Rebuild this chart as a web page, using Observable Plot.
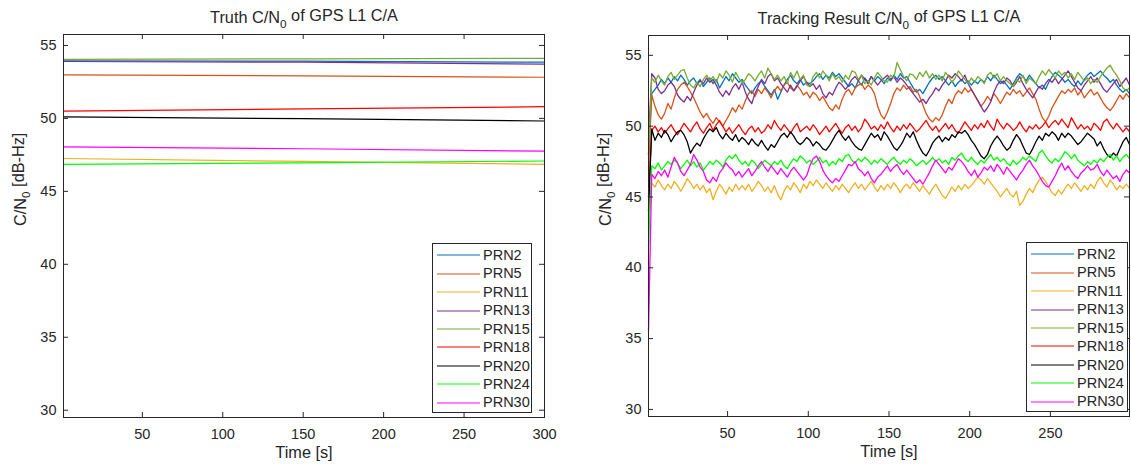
<!DOCTYPE html>
<html>
<head>
<meta charset="utf-8">
<script src="https://cdn.jsdelivr.net/npm/d3@7"></script>
<script src="https://cdn.jsdelivr.net/npm/@observablehq/plot@0.6"></script>
<style>
  body { margin: 0; background: #fff; font-family: "Liberation Sans", Arial, Helvetica, sans-serif; }
  #wrap { position: relative; width: 1131px; height: 468px; display: flex; overflow: hidden; }
  #wrap svg { display: block; }
  .legend { position: absolute; border: 1px solid #262626; background: #fff; box-sizing: border-box;
            font-size: 14.5px; color: #262626; padding-top: 2px; }
  .legend .row { height: 18.45px; display: flex; align-items: center; }
  .legend .row svg { margin-left: 4px; }
  .legend .row span { margin-left: 3px; line-height: 1; }
</style>
</head>
<body>
<div id="wrap"></div>
<script>
// ---------------- data ----------------
const prns = ["PRN2", "PRN5", "PRN11", "PRN13", "PRN15", "PRN18", "PRN20", "PRN24", "PRN30"];
const colors = ["#0072BD", "#D95319", "#EDB120", "#7E2F8E", "#77AC30", "#FF0000", "#000000", "#00FF00", "#FF00FF"];

const yTicks = [30, 35, 40, 45, 50, 55];
const xTicksTruth = [50, 100, 150, 200, 250, 300];
const xTicksTrack = [50, 100, 150, 200, 250];

// Truth C/N0 (samples at t = 1, 150, 300 s)
const truthTime = [1, 150, 300];
const truthPRN2  = [53.95, 53.92, 53.85];
const truthPRN5  = [52.98, 52.92, 52.82];
const truthPRN11 = [47.25, 47.05, 46.85];
const truthPRN13 = [53.90, 53.85, 53.72];
const truthPRN15 = [54.05, 54.08, 54.12];
const truthPRN18 = [50.50, 50.65, 50.80];
const truthPRN20 = [50.10, 49.98, 49.82];
const truthPRN24 = [46.85, 46.95, 47.08];
const truthPRN30 = [48.05, 47.92, 47.75];

// Tracking result C/N0 (one sample every 2 s, t = 1 ... 299 s)
const trackTime = d3.range(1, 300, 2);
const trackPRN2 = [
48.0,52.3,52.6,52.9,53.3,53.0,53.4,53.1,53.5,53.2,
53.6,53.3,52.9,53.2,53.4,53.0,53.3,52.8,53.1,53.4,
53.0,53.3,52.7,53.1,53.5,53.2,53.7,53.4,53.1,53.3,
52.9,52.6,52.3,52.7,53.0,53.2,52.8,52.5,52.2,52.6,
51.9,52.4,52.9,53.3,53.6,53.2,53.0,53.3,52.9,53.1,
53.0,53.2,53.5,53.7,53.3,53.6,53.4,53.8,53.5,53.7,
53.4,53.1,52.8,53.0,52.7,53.2,52.9,53.4,53.1,53.5,
53.2,53.5,53.3,53.0,53.4,53.2,53.6,53.3,53.7,53.4,
53.5,53.1,52.7,52.4,52.6,52.3,52.7,53.1,53.4,53.6,
53.3,53.5,53.2,52.9,53.2,52.8,53.1,53.3,53.0,53.2,
52.9,53.2,53.0,53.3,53.1,53.5,53.2,53.6,53.3,53.0,
53.2,52.9,52.6,53.0,53.4,53.7,53.5,53.2,53.6,53.3,
53.0,52.7,52.9,52.6,53.1,53.5,53.8,53.6,53.4,53.1,
53.3,53.0,52.8,53.2,52.9,53.3,53.6,53.8,53.5,53.7,
53.9,53.6,53.4,53.1,53.3,52.9,52.6,52.4,52.6,52.3];
const trackPRN5 = [
47.0,52.2,51.4,50.8,50.5,50.9,51.6,51.2,52.0,52.6,
52.9,53.1,52.8,52.4,52.0,51.5,51.0,50.6,50.9,50.5,
50.2,50.6,50.3,50.0,50.4,50.8,51.3,51.0,51.5,51.2,
51.8,52.3,52.5,52.1,52.6,52.3,52.7,52.4,52.0,52.5,
52.8,52.5,52.9,53.1,52.7,52.5,52.9,52.6,52.2,52.4,
52.0,52.4,52.2,51.8,52.1,51.7,51.3,51.1,51.5,51.2,
51.9,52.4,52.6,52.2,52.7,52.9,53.0,52.6,52.9,52.7,
52.3,51.4,50.8,50.5,51.0,51.6,52.3,52.7,52.5,52.9,
52.6,52.8,52.4,52.6,52.1,51.5,50.9,50.5,50.3,50.6,
50.4,50.8,51.4,51.9,51.6,52.2,52.5,52.3,52.7,52.4,
52.6,52.2,51.8,51.4,51.7,52.1,51.8,52.3,52.0,51.6,
52.0,52.4,52.2,52.6,52.3,52.5,52.1,52.4,52.7,52.3,
51.9,51.2,50.6,50.3,50.7,51.3,51.7,52.1,52.5,52.3,
52.6,52.4,52.7,52.2,52.5,52.0,52.3,52.6,52.2,52.4,
52.0,51.6,51.3,51.1,51.4,51.8,52.2,51.9,52.3,52.0];
const trackPRN11 = [
43.5,46.0,45.7,46.2,45.8,45.5,45.9,45.6,46.1,45.8,
45.4,45.8,46.3,46.0,45.6,45.9,45.5,45.8,45.3,45.6,
44.8,45.4,45.9,45.6,45.2,45.7,45.4,45.9,45.5,45.8,
45.5,45.9,45.4,45.7,46.1,45.8,45.4,45.7,45.3,45.8,
45.2,44.8,45.4,45.8,45.5,46.0,45.7,45.3,45.9,45.6,
46.1,45.8,46.2,45.9,45.6,46.0,45.7,45.4,45.8,45.5,
45.9,45.6,45.3,45.7,46.0,45.6,45.9,45.5,45.8,46.1,
45.7,45.4,45.8,45.5,45.9,45.6,46.0,45.7,45.3,45.7,
45.9,45.6,46.0,45.7,45.4,45.8,45.5,45.2,45.6,45.9,
45.5,45.1,44.9,45.3,45.7,45.4,45.8,45.5,45.9,45.6,
45.8,46.1,46.4,46.2,45.9,46.3,46.0,45.7,45.4,45.0,
45.3,45.6,45.2,45.0,45.4,44.4,44.7,45.2,45.6,45.3,
45.8,46.2,46.4,46.1,45.7,45.3,45.1,45.5,45.2,45.6,
45.9,45.6,46.0,45.7,45.4,45.8,45.5,45.9,45.6,46.1,
46.4,46.0,45.7,46.2,45.9,45.5,45.8,45.6,45.9,45.6];
const trackPRN13 = [
49.0,53.7,53.4,52.6,52.3,52.5,52.9,53.1,52.8,52.2,
51.9,51.7,52.1,51.8,52.4,52.9,53.2,53.0,53.4,53.1,
53.3,52.9,52.4,52.1,52.5,52.2,52.7,53.0,52.6,53.1,
52.4,51.9,51.6,52.3,52.8,53.3,53.0,53.5,53.7,53.2,
53.4,53.0,52.7,52.4,52.9,52.5,52.8,53.2,53.5,53.1,
52.8,53.0,52.6,52.9,52.3,52.0,52.4,52.2,52.7,53.1,
52.9,52.6,52.9,53.3,53.5,53.2,53.6,53.3,53.0,53.5,
53.2,52.9,53.2,53.4,53.6,53.3,53.5,53.1,53.4,53.2,
52.9,52.6,52.3,52.0,51.7,51.9,51.6,52.0,52.3,52.7,
52.5,52.9,53.2,53.6,53.4,53.7,53.5,53.2,53.6,53.0,
52.6,52.2,51.8,51.4,51.0,51.3,51.7,52.4,52.9,53.2,
53.0,53.4,53.2,52.8,53.1,53.5,53.0,52.6,52.3,52.0,
52.4,52.8,52.6,53.0,53.3,53.1,53.4,53.0,53.3,53.6,
53.9,53.5,53.1,52.7,52.5,52.9,53.2,53.5,53.1,53.4,
53.0,52.6,52.4,52.7,53.0,53.3,52.8,53.1,53.4,52.9];
const trackPRN15 = [
48.0,53.4,53.1,53.6,53.2,52.9,53.5,53.8,53.3,53.6,
53.9,54.0,53.4,52.9,52.7,53.1,52.8,53.3,53.6,53.2,
53.5,53.1,53.7,53.4,53.9,53.6,53.1,53.8,53.4,53.0,
53.3,53.7,53.5,53.2,53.6,53.9,53.4,54.1,53.7,53.3,
53.6,53.2,53.5,53.0,53.8,53.4,53.9,53.3,53.6,52.9,
52.8,53.5,53.8,53.4,53.9,53.6,53.2,53.7,53.3,53.5,
53.1,53.6,53.3,53.9,53.8,53.3,53.6,53.0,53.2,52.9,
53.4,53.8,53.5,53.2,53.1,53.6,53.4,54.5,54.0,53.5,
53.2,53.7,53.6,53.3,53.8,53.5,53.9,53.4,53.7,53.3,
53.6,53.2,53.8,53.5,53.1,53.4,53.9,53.6,53.3,53.0,
53.4,53.1,53.5,53.3,53.0,53.6,53.8,53.4,53.7,53.2,
53.5,53.2,53.0,52.8,53.3,53.1,53.6,53.0,53.4,53.2,
53.0,53.5,53.9,53.6,54.0,53.7,53.4,53.9,53.6,53.8,
53.4,53.7,53.3,53.8,53.5,53.2,53.4,53.0,53.3,53.1,
53.5,53.8,54.1,54.3,53.9,53.6,53.2,52.7,52.5,52.7];
const trackPRN18 = [
45.0,49.7,50.0,49.6,49.9,49.5,49.8,50.1,49.7,49.4,
49.8,50.2,49.9,49.6,50.0,50.3,49.8,49.5,49.9,50.2,
49.7,50.1,50.4,50.0,49.6,49.9,49.5,49.8,50.1,49.7,
49.4,49.8,50.0,49.6,49.9,49.5,49.7,50.1,49.8,50.4,
50.0,49.7,50.1,49.8,49.5,49.9,50.2,49.6,49.8,50.0,
49.7,50.1,49.8,49.4,49.7,50.0,49.6,49.9,50.2,49.8,
49.5,49.9,50.1,49.7,50.0,49.6,49.9,50.5,50.2,49.8,
50.0,49.7,50.1,49.8,50.3,49.9,49.6,50.0,49.7,50.1,
49.8,50.2,49.9,49.6,49.8,50.1,50.4,50.0,49.7,50.0,
49.6,49.9,50.2,49.8,50.1,49.7,49.5,49.9,50.3,50.0,
49.7,50.1,49.8,50.2,49.9,50.4,50.0,49.7,50.5,50.1,
49.8,50.2,50.0,49.7,49.9,50.3,49.9,49.6,50.0,49.8,
50.1,49.8,50.0,50.3,49.9,50.2,50.4,50.1,50.5,50.2,
49.9,50.6,50.2,49.8,50.1,49.8,50.0,49.7,50.2,50.0,
49.7,50.3,50.5,50.1,49.8,50.2,49.9,49.6,49.9,49.6];
const trackPRN20 = [
44.0,49.8,49.0,49.5,49.2,49.7,49.4,48.9,49.3,49.6,
49.7,49.4,48.9,48.1,48.5,48.8,48.6,49.1,49.5,49.8,
49.6,49.9,49.4,49.1,49.5,49.2,49.0,49.4,48.9,49.2,
49.0,48.7,49.1,48.8,48.6,49.0,48.6,48.3,48.7,48.5,
48.9,49.3,49.5,49.2,49.6,49.3,48.9,48.7,48.9,49.2,
49.0,48.6,48.9,48.7,48.4,48.3,48.6,49.0,49.4,49.7,
49.3,49.0,49.3,48.9,48.6,48.4,48.3,48.7,49.1,49.5,
49.2,49.4,49.0,49.6,49.3,48.9,48.5,48.3,48.6,49.0,
49.5,49.2,49.6,49.0,48.5,48.1,47.9,48.3,48.8,49.1,
49.3,48.9,49.2,49.0,49.4,49.2,49.6,49.5,49.7,49.4,
49.0,48.7,48.3,47.9,47.7,48.0,48.6,49.0,49.3,49.0,
48.6,48.3,48.5,49.0,49.4,49.1,48.6,48.1,48.0,48.4,
48.9,49.3,49.0,49.5,49.3,49.6,49.4,49.0,49.5,49.2,
49.5,49.3,49.0,48.7,48.9,49.2,49.5,49.3,49.1,48.6,
48.9,48.4,48.0,47.8,48.1,47.9,48.4,48.9,49.2,48.7];
const trackPRN24 = [
41.5,47.2,47.0,47.4,46.9,47.2,47.5,47.3,47.6,47.4,
47.0,47.3,47.6,47.2,47.5,47.1,47.4,46.9,47.2,47.5,
47.3,47.6,47.4,47.1,47.6,47.9,47.7,48.0,47.6,47.3,
47.5,47.2,47.6,47.4,47.0,47.3,47.6,47.4,47.2,47.5,
47.3,47.6,47.2,47.0,47.4,47.7,47.5,47.9,47.7,47.4,
47.6,47.3,47.5,47.8,47.4,47.6,47.2,47.5,47.3,47.7,
47.5,47.9,48.0,47.6,47.4,47.7,47.5,47.8,47.6,47.3,
47.6,47.4,47.7,47.5,47.3,47.6,47.8,47.5,47.3,47.6,
47.4,47.7,47.5,47.2,47.4,47.6,47.3,47.5,47.8,47.5,
47.7,47.4,47.6,47.3,47.8,47.6,47.9,48.1,47.7,47.5,
47.8,47.5,47.3,47.6,47.4,47.7,48.0,47.6,47.8,47.5,
47.7,47.4,47.2,47.6,47.3,47.5,47.8,47.6,47.9,47.7,
47.5,48.1,48.3,47.9,47.6,47.4,47.7,47.5,47.8,48.2,
48.0,47.7,48.0,47.6,47.4,47.2,47.5,47.3,47.6,47.4,
47.7,47.5,47.8,48.0,47.6,47.9,47.5,47.8,48.0,47.7];
const trackPRN30 = [
35.5,46.6,46.3,46.8,46.5,46.9,46.4,47.1,47.8,47.4,
46.8,46.5,46.9,47.3,48.0,47.6,47.1,46.8,46.2,46.0,
46.4,46.1,46.7,47.0,47.4,47.1,46.9,46.5,46.8,46.4,
46.7,47.0,46.5,46.8,47.2,47.5,47.1,46.8,47.2,46.9,
46.6,47.0,46.7,46.4,46.8,47.1,46.8,46.5,46.2,46.5,
47.2,47.7,47.9,47.5,46.9,46.5,46.2,46.0,46.3,46.1,
46.5,46.9,47.3,47.2,47.5,47.0,46.8,46.5,46.8,46.3,
46.0,46.4,46.6,46.9,47.2,46.8,47.1,47.3,46.9,46.6,
46.9,46.6,46.3,46.0,46.2,45.9,46.3,46.7,47.2,47.6,
47.3,47.0,46.7,47.1,46.9,47.3,47.7,47.5,47.2,46.8,
46.5,46.9,46.4,46.7,47.1,46.9,47.2,46.8,47.3,47.0,
46.6,47.1,46.8,46.5,46.2,46.6,46.9,47.3,47.6,47.2,
46.9,46.5,46.1,45.8,45.7,46.1,46.5,47.0,47.4,46.9,
47.2,46.8,46.5,46.3,46.7,46.9,47.2,46.9,47.0,47.3,
46.8,46.5,46.9,46.6,46.3,46.5,46.1,46.6,46.9,46.7];

const truthSeries = [truthPRN2, truthPRN5, truthPRN11, truthPRN13, truthPRN15, truthPRN18, truthPRN20, truthPRN24, truthPRN30];
const trackSeries = [trackPRN2, trackPRN5, trackPRN11, trackPRN13, trackPRN15, trackPRN18, trackPRN20, trackPRN24, trackPRN30];

const truthData = prns.flatMap((p, i) => truthSeries[i].map((v, j) => ({prn: p, t: truthTime[j], v})));
const trackData = prns.flatMap((p, i) => trackSeries[i].map((v, j) => ({prn: p, t: trackTime[j], v})));

// ---------------- drawing ----------------
const FONT = '"Liberation Sans", Arial, Helvetica, sans-serif';
const AX = "#262626";
const TXT = "#262626";

function chart({title, data, xDomain, yDomain, xTicks, width, mL, mR, mT, mB, lw}) {
  const H = 468;
  const fw = width - mL - mR, fh = H - mT - mB;
  const svg = Plot.plot({
    width, height: H, marginLeft: mL, marginRight: mR, marginTop: mT, marginBottom: mB,
    style: {fontFamily: FONT, fontSize: "14px", color: TXT, background: "white", overflow: "visible"},
    x: {domain: xDomain},
    y: {domain: yDomain},
    color: {domain: prns, range: colors},
    marks: [
      Plot.line(data, {x: "t", y: "v", z: "prn", stroke: "prn", strokeWidth: lw}),
      Plot.frame({stroke: AX, strokeWidth: 1}),
      Plot.tickX(xTicks, {x: d => d, insetTop: fh - 5, stroke: AX}),
      Plot.tickX(xTicks, {x: d => d, insetBottom: fh - 5, stroke: AX}),
      Plot.tickY(yTicks, {y: d => d, insetRight: fw - 5, stroke: AX}),
      Plot.tickY(yTicks, {y: d => d, insetLeft: fw - 5, stroke: AX}),
      Plot.axisX({ticks: xTicks, anchor: "bottom", tickSize: 0, tickPadding: 11, label: null, fontSize: 14.5, fill: TXT}),
      Plot.axisY({ticks: yTicks, anchor: "left", tickSize: 0, tickPadding: 7, label: null, fontSize: 14.5, fill: TXT}),
      Plot.text([title], {text: d => d, frameAnchor: "top", dy: -23, fontSize: 16.3, fill: TXT}),
      Plot.text(["Time [s]"], {text: d => d, frameAnchor: "bottom", dy: 40, fontSize: 16.3, fill: TXT}),
      Plot.text(["C/N0 [dB-Hz]"], {text: d => d, frameAnchor: "left", dx: -43, rotate: -90, fontSize: 16.3, fill: TXT})
    ]
  });
  // subscript 0 in C/N0
  d3.select(svg).selectAll("text").each(function () {
    const s = this.textContent;
    if (s.includes("C/N0")) {
      const [a, b] = s.split("C/N0");
      const el = d3.select(this);
      el.selectAll("*").remove();
      el.text(null);
      el.append("tspan").text(a + "C/N");
      el.append("tspan").attr("dy", "0.38em").attr("font-size", "0.72em").text("0");
      el.append("tspan").attr("dy", "-0.38em").text(b);
    }
  });
  return svg;
}

const wrap = document.getElementById("wrap");
wrap.appendChild(chart({
  title: "Truth C/N0 of GPS L1 C/A", data: truthData, xDomain: [1, 300], yDomain: [29.5, 55.75],
  xTicks: xTicksTruth, width: 565, mL: 63, mR: 21, mT: 34, mB: 51, lw: 1.2
}));
wrap.appendChild(chart({
  title: "Tracking Result C/N0 of GPS L1 C/A", data: trackData, xDomain: [1, 299], yDomain: [29.5, 56.4],
  xTicks: xTicksTrack, width: 566, mL: 83, mR: 2, mT: 35, mB: 52, lw: 1.3
}));

function legend(left, top, width) {
  const div = document.createElement("div");
  div.className = "legend";
  div.style.left = left + "px";
  div.style.top = top + "px";
  div.style.width = width + "px";
  div.style.height = "170px";
  prns.forEach((p, i) => {
    const row = document.createElement("div");
    row.className = "row";
    row.innerHTML = `<svg width="43" height="4"><line x1="0" x2="43" y1="2" y2="2" stroke="${colors[i]}" stroke-width="1.2"/></svg><span>${p}</span>`;
    div.appendChild(row);
  });
  wrap.appendChild(div);
}
legend(432, 243, 100);
legend(1026, 242, 102);
</script>
</body>
</html>
